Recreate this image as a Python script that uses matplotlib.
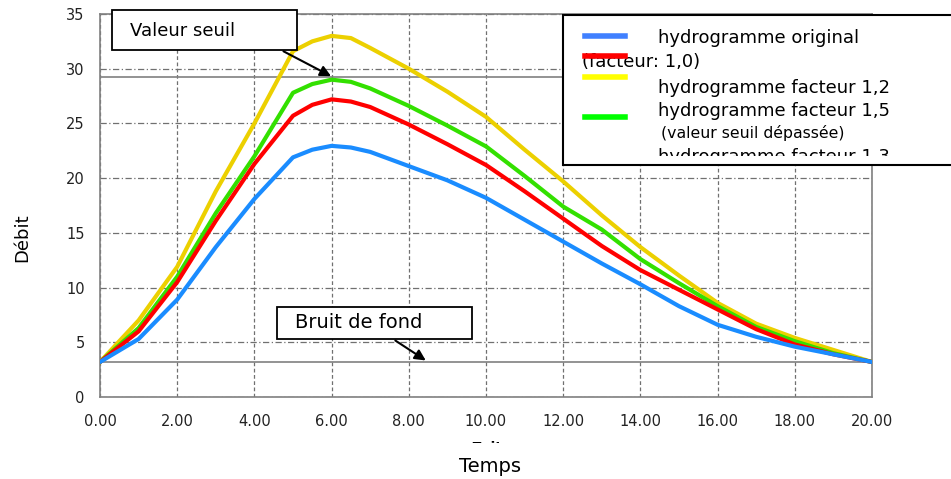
import matplotlib
matplotlib.use("Agg")
import matplotlib.pyplot as plt
from matplotlib.patches import Rectangle
from matplotlib.lines import Line2D

# temps (h) et debits
temps = [0, 1, 2, 3, 4, 5, 5.5, 6, 6.5, 7, 8, 9, 10, 11, 12, 13, 14, 15, 16, 17, 18, 19, 20]
q_original = [3.2, 5.3, 8.9, 13.7, 18.1, 21.9, 22.6, 22.95, 22.8, 22.4, 21.1, 19.8, 18.2, 16.2, 14.2, 12.2, 10.3, 8.3, 6.6, 5.5, 4.6, 3.9, 3.2]
q_f10 = [3.2, 6.0, 10.5, 16.1, 21.3, 25.7, 26.7, 27.2, 27.0, 26.5, 24.9, 23.1, 21.2, 18.8, 16.3, 13.8, 11.6, 9.8, 8.0, 6.2, 4.8, 3.9, 3.2]
q_f12 = [3.2, 7.0, 11.9, 18.8, 25.0, 31.6, 32.5, 33.0, 32.8, 31.9, 30.0, 27.9, 25.6, 22.6, 19.7, 16.6, 13.7, 11.1, 8.6, 6.7, 5.4, 4.3, 3.2]
q_f15 = [3.2, 6.3, 11.0, 16.8, 22.0, 27.8, 28.6, 29.0, 28.8, 28.2, 26.6, 24.8, 22.9, 20.2, 17.4, 15.3, 12.6, 10.4, 8.3, 6.4, 5.1, 4.0, 3.2]

seuil = 29.2
bruit_fond = 3.2

x_ticks = [0, 2, 4, 6, 8, 10, 12, 14, 16, 18, 20]
y_ticks = [0, 5, 10, 15, 20, 25, 30, 35]

legend_labels = ["hydrogramme original", "(facteur: 1,0)", "hydrogramme facteur 1,2",
                 "hydrogramme facteur 1,5", "(valeur seuil dépassée)", "hydrogramme facteur 1,3"]

W, H = 951, 479
fig = plt.figure(figsize=(W / 100, H / 100), dpi=100)
ax = fig.add_axes([100 / W, (H - 397) / H, 772 / W, 383 / H])

ax.plot(temps, q_f12, color="#ecd000", lw=3, solid_joinstyle="round", zorder=3)
ax.plot(temps, q_f15, color="#33e000", lw=3, solid_joinstyle="round", zorder=3)
ax.plot(temps, q_f10, color="#ff0000", lw=3, solid_joinstyle="round", zorder=3)
ax.plot(temps, q_original, color="#1a8cff", lw=3, solid_joinstyle="round", zorder=3)

ax.axhline(seuil, color="#808080", lw=1.2, zorder=2)
ax.axhline(bruit_fond, color="#808080", lw=1.2, zorder=2)

ax.set_xlim(0, 20)
ax.set_ylim(0, 35)
ax.set_xticks(x_ticks)
ax.set_xticklabels([f"{t:.2f}" for t in x_ticks])
ax.set_yticks(y_ticks)
ax.tick_params(length=0, labelsize=10.5, colors="#222222")
ax.tick_params(axis="x", pad=12)
ax.tick_params(axis="y", pad=11)
ax.yaxis.grid(True, color="#707070", lw=0.9, ls=(0, (5, 2, 1, 2)))
ax.xaxis.grid(True, color="#707070", lw=0.9, ls=(0, (3, 2)))
for s in ax.spines.values():
    s.set_color("#808080")
    s.set_linewidth(1.2)

fig.text(490 / W, 1 - 466 / H, "Temps", fontsize=14, ha="center", va="center")
fig.text(22 / W, 1 - 238 / H, "Débit", fontsize=13, rotation=90, ha="center", va="center")

# overlay en pixels pour les cadres de texte
ov = fig.add_axes([0, 0, 1, 1])
ov.set_xlim(0, W)
ov.set_ylim(H, 0)
ov.axis("off")

# "Zeit" coupe en bas
clip_zeit = Rectangle((400, 436), 200, 7, transform=ov.transData)
t = ov.text(487, 448, "Zeit", fontsize=10, fontweight="bold", ha="center", va="center")
t.set_clip_path(clip_zeit)
t.set_clip_on(True)

# Valeur seuil
ov.add_patch(Rectangle((112, 10), 185, 40, facecolor="white", edgecolor="black", lw=1.3, zorder=2))
ov.text(130, 31, "Valeur seuil", fontsize=13, ha="left", va="center", zorder=3)
ov.annotate("", xy=(6.05, seuil), xycoords=ax.transData, xytext=(281, 50), textcoords="data",
            arrowprops=dict(arrowstyle="-|>", color="black", lw=1.5, mutation_scale=16))

# Bruit de fond
ov.add_patch(Rectangle((277, 307), 195, 32, facecolor="white", edgecolor="black", lw=1.3, zorder=2))
ov.text(295, 323, "Bruit de fond", fontsize=14, ha="left", va="center", zorder=3)
ov.annotate("", xy=(8.5, bruit_fond), xycoords=ax.transData, xytext=(393, 339), textcoords="data",
            arrowprops=dict(arrowstyle="-|>", color="black", lw=1.5, mutation_scale=16))

# legende manuelle
ov.add_patch(Rectangle((563, 15), 400, 150, facecolor="white", edgecolor="black", lw=1.5, zorder=2))
for y, c in zip([36, 56, 77, 117], ["#4080ff", "#ff0000", "#ffff00", "#00ff00"]):
    ov.add_line(Line2D([585, 625], [y, y], color=c, lw=4, zorder=4))
ov.text(658, 38, legend_labels[0], fontsize=13, va="center", zorder=3)
ov.text(582, 62, legend_labels[1], fontsize=13, va="center", zorder=3)
ov.text(658, 88, legend_labels[2], fontsize=13, va="center", zorder=3)
ov.text(658, 111, legend_labels[3], fontsize=13, va="center", zorder=3)
ov.text(661, 133, legend_labels[4], fontsize=11.3, va="center", zorder=3)
clip_leg = Rectangle((563, 15), 400, 141, transform=ov.transData)
t = ov.text(658, 157, legend_labels[5], fontsize=13, va="center", zorder=3)
t.set_clip_path(clip_leg)
t.set_clip_on(True)

fig.savefig("out.png", dpi=100)
